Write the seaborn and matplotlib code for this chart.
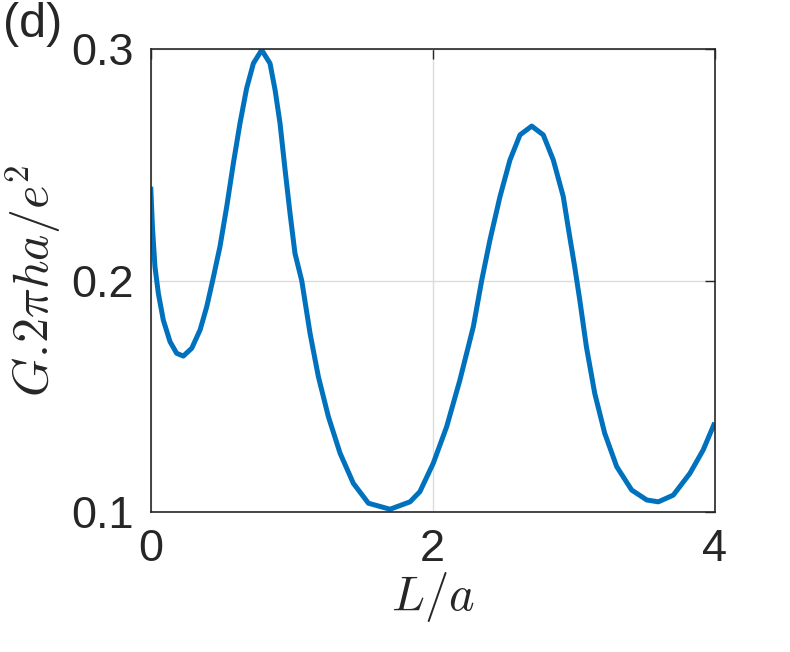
import numpy as np
import pandas as pd
import matplotlib
matplotlib.use("Agg")
import matplotlib.pyplot as plt
import seaborn as sns

# valores
L_a = [0.000, 0.012, 0.030, 0.054, 0.089, 0.137, 0.184, 0.231, 0.291, 0.350,
       0.397, 0.439, 0.491, 0.539, 0.586, 0.633, 0.680, 0.728, 0.787, 0.846,
       0.882, 0.917, 0.953, 0.988, 1.023, 1.071, 1.130, 1.189, 1.260, 1.343,
       1.437, 1.544, 1.697, 1.839, 1.909, 2.004, 2.099, 2.193, 2.288, 2.347,
       2.406, 2.477, 2.548, 2.619, 2.702, 2.784, 2.855, 2.926, 2.960, 3.007,
       3.043, 3.090, 3.149, 3.220, 3.305, 3.411, 3.518, 3.600, 3.706, 3.824,
       3.918, 4.000]
G = [0.2406, 0.2233, 0.2060, 0.1945, 0.1830, 0.1736, 0.1686, 0.1674, 0.1708, 0.1787,
     0.1887, 0.2000, 0.2147, 0.2320, 0.2507, 0.2680, 0.2831, 0.2939, 0.2997, 0.2939,
     0.2824, 0.2680, 0.2478, 0.2291, 0.2118, 0.2000, 0.1772, 0.1585, 0.1412, 0.1254,
     0.1124, 0.1038, 0.1012, 0.1044, 0.1088, 0.1211, 0.1369, 0.1571, 0.1801, 0.2000,
     0.2176, 0.2363, 0.2522, 0.2630, 0.2668, 0.2630, 0.2522, 0.2363, 0.2233, 0.2060,
     0.1916, 0.1714, 0.1513, 0.1340, 0.1196, 0.1095, 0.1052, 0.1044, 0.1073, 0.1167,
     0.1268, 0.1386]
x_ticks = [0, 2, 4]
y_ticks = [0.1, 0.2, 0.3]

df = pd.DataFrame({"L": L_a, "G": G})

sns.set_style("white")
plt.rcParams["font.family"] = ["Liberation Sans", "DejaVu Sans"]
plt.rcParams["mathtext.fontset"] = "cm"

fig = plt.figure(figsize=(7.9, 6.52), dpi=100)
ax = fig.add_axes([0.1908, 0.2147, 0.7139, 0.7097])

sns.lineplot(data=df, x="L", y="G", ax=ax, sort=False, color="#0072BD",
             linewidth=3.6, solid_joinstyle="round", solid_capstyle="butt")

ax.set_xlim(0, 4)
ax.set_ylim(0.1, 0.3)
ax.set_xticks(x_ticks)
ax.set_yticks(y_ticks)
ax.set_xticklabels(["0", "2", "4"])
ax.set_yticklabels(["0.1", "0.2", "0.3"])
ax.grid(True, color="#dcdcdc", linewidth=1.0)
ax.tick_params(direction="in", length=7, width=1, top=True, right=True,
               labelsize=32.5, colors="#262626", pad=12)
for s in ax.spines.values():
    s.set_color("#262626")
    s.set_linewidth(1.2)

ax.set_xlabel(r"$L/a$", fontsize=35, labelpad=0)
ax.set_ylabel(r"$G.\!2\pi ha/e^2$", fontsize=36, labelpad=6)
fig.text(0.004, 0.997, "(d)", fontsize=35, va="top", ha="left")

fig.savefig("out.png", dpi=100)
